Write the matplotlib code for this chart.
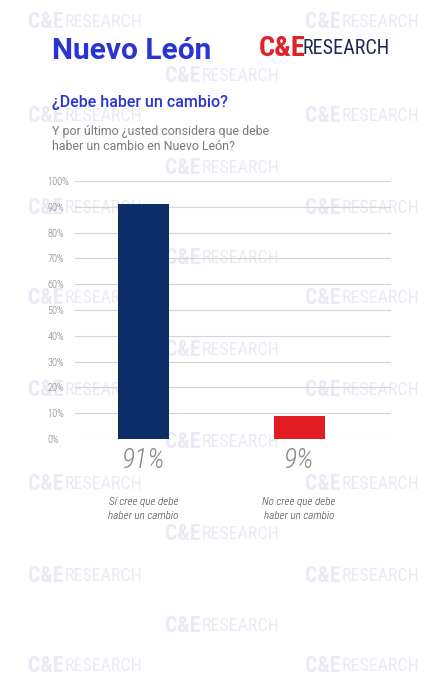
import matplotlib
matplotlib.use("Agg")
import matplotlib.pyplot as plt
from matplotlib import font_manager

categories = ["Sí cree que debe\nhaber un cambio", "No cree que debe\nhaber un cambio"]
values = [91, 9]
value_labels = ["91%", "9%"]
yticks = [0, 10, 20, 30, 40, 50, 60, 70, 80, 90, 100]
ytick_labels = [f"{t}%" for t in yticks]
bar_colors = ["#0c2d67", "#e31b23"]

names = sorted({f.name for f in font_manager.fontManager.ttflist})
narrow = None
for cand in ["Roboto Condensed", "DejaVu Sans Condensed", "Liberation Sans Narrow",
             "Open Sans Condensed", "Noto Sans Condensed"]:
    if cand in names:
        narrow = cand
        break
if narrow is None:
    for n in names:
        if "Condensed" in n or "Narrow" in n:
            narrow = n
            break
found_narrow = narrow is not None
if narrow is None:
    narrow = "DejaVu Sans"
main = "Roboto" if "Roboto" in names else "DejaVu Sans"
k = 1.0 if found_narrow else 0.8

W, H = 431, 686
fig = plt.figure(figsize=(W / 100, H / 100), dpi=100)
fig.patch.set_facecolor("white")

# watermarks
wm_col = "#eaeaf6"
side_rows = [22, 116, 208, 298, 390, 484, 576, 666]
center_rows = [76, 168, 258, 350, 442, 534, 626]
def wm(x, y):
    fig.text(x / W, 1 - y / H, "C&E", fontsize=15.5 * k, fontweight="bold", color=wm_col,
             family=narrow, va="center", ha="left", zorder=0)
    fig.text((x + 37) / W, 1 - y / H, "RESEARCH", fontsize=13 * k, color=wm_col,
             family=narrow, va="center", ha="left", zorder=0)
for y in side_rows:
    wm(28, y)
    wm(305, y)
for y in center_rows:
    wm(165, y)

# header
fig.text(52 / W, 1 - 51 / H, "Nuevo León", fontsize=21.5, fontweight="bold",
         color="#2a33d6", family=main, va="center", ha="left", zorder=2)
fig.text(259 / W, 1 - 49 / H, "C&E", fontsize=20.5 * k, fontweight="bold",
         color="#e0232a", family=narrow, va="center", ha="left", zorder=2)
fig.text(303 / W, 1 - 49 / H, "RESEARCH", fontsize=14.5 * k,
         color="#1a2a55", family=narrow, va="center", ha="left", zorder=2)
fig.text(52 / W, 1 - 103 / H, "¿Debe haber un cambio?", fontsize=11.5, fontweight="medium",
         color="#2a33d6", family=main, va="center", ha="left", zorder=2)
fig.text(52 / W, 1 - 139 / H, "Y por último ¿usted considera que debe\nhaber un cambio en Nuevo León?",
         fontsize=8.9, color="#7a7a7a", family=main, va="center", ha="left", linespacing=1.2,
         zorder=2)

# axes
ax = fig.add_axes([75 / W, 1 - 439 / H, 316 / W, 258 / H])
ax.set_zorder(1)
ax.patch.set_alpha(0)
x = list(range(len(values)))
ax.bar(x, values, width=0.328, color=bar_colors, zorder=3)
ax.set_xlim(-0.44, 1.59)
ax.set_ylim(0, 100)
ax.set_yticks(yticks)
ax.set_yticklabels(ytick_labels, family=narrow, fontsize=7.5 * k, color="#808080", ha="left",
                   fontweight="light")
ax.tick_params(axis="y", length=0, pad=20)
ax.set_xticks([])
for s in ax.spines.values():
    s.set_visible(False)
ax.yaxis.grid(True, color="#d4d4d4", linewidth=0.8, zorder=1)
ax.set_axisbelow(True)

for xi, lab in zip(x, value_labels):
    ax.annotate(lab, xy=(xi, 0), xycoords="data", xytext=(0, -22), textcoords="offset pixels",
                ha="center", va="center", fontsize=20 * k, style="italic", color="#8a8a8a",
                fontweight="light", family=narrow, annotation_clip=False)
for xi, lab in zip(x, categories):
    ax.annotate(lab, xy=(xi, 0), xycoords="data", xytext=(0, -70), textcoords="offset pixels",
                ha="center", va="center", fontsize=8 * k, style="italic", color="#444444",
                fontweight="light", family=narrow, annotation_clip=False, linespacing=1.45)

fig.savefig("out.png", dpi=100, facecolor="white")
